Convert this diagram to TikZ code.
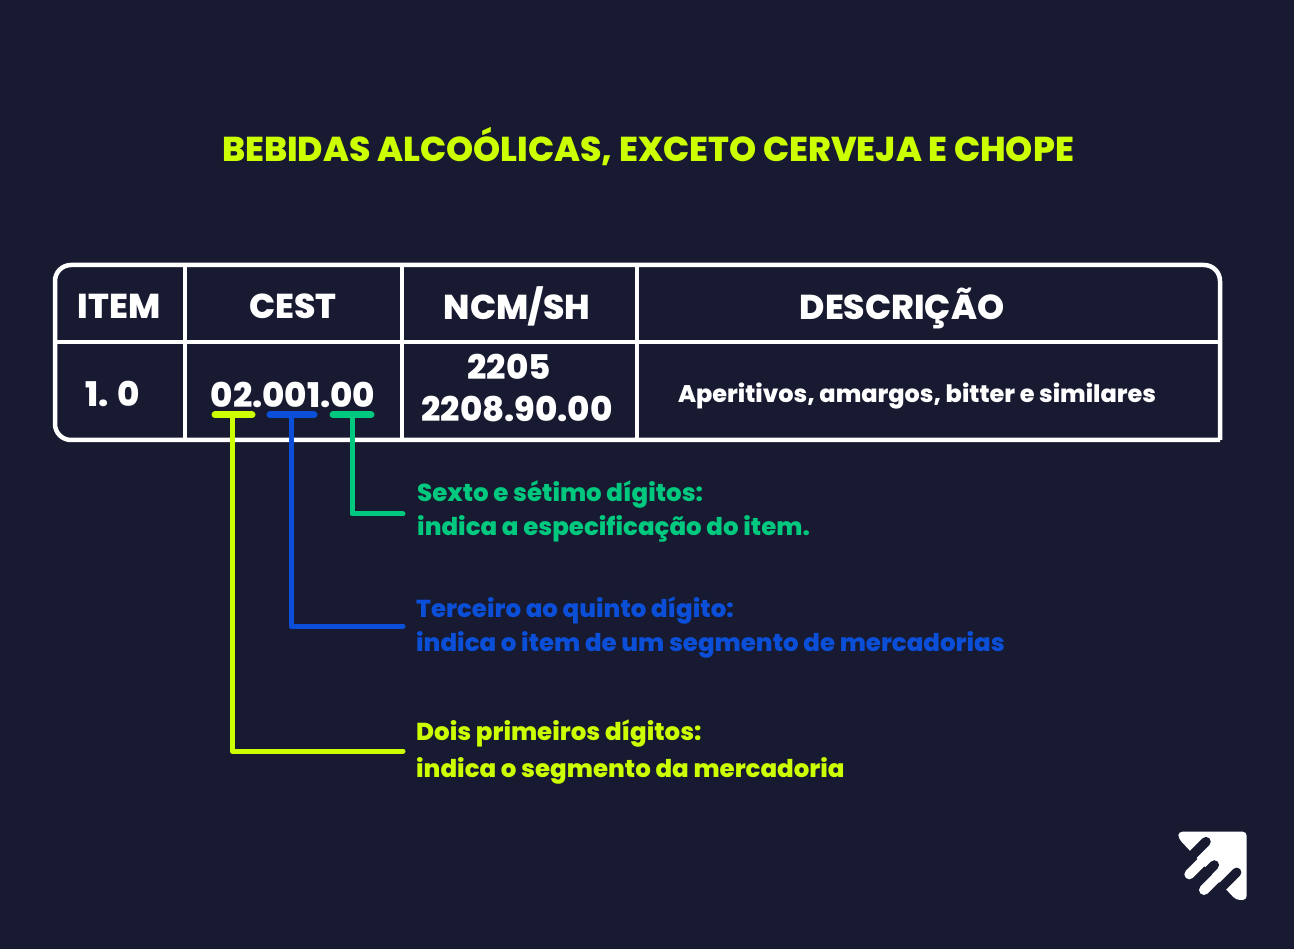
\documentclass[tikz,border=0pt]{standalone}
\usepackage{fontspec}
\setmainfont{Poppins}[BoldFont=Poppins ExtraBold]
\usetikzlibrary{positioning}
\definecolor{bgnavy}{HTML}{171A30}
\definecolor{limey}{HTML}{CCFF00}
\definecolor{bluey}{HTML}{0B4FD8}
\definecolor{greeny}{HTML}{00C97F}
\tikzset{
    head/.style={text=white, font=\bfseries\fontsize{34.5}{40}\selectfont},
    cell/.style={text=white, font=\bfseries\fontsize{34}{40}\selectfont},
    note/.style={anchor=west, align=left, inner sep=0pt, font=\bfseries\fontsize{24.5}{34}\selectfont},
    rule/.style={draw=white, line width=4.5pt},
    bar/.style={line width=7pt, line cap=round},
    lead/.style={line width=5pt, line join=round, line cap=round}
}
\begin{document}
\begin{tikzpicture}[x=1pt, y=-1pt]
    \def\top{265}
    \def\mid{342}
    \def\bot{440}
    \fill[bgnavy] (0,0) rectangle (1294,949);
    \useasboundingbox (0,0) rectangle (1294,949);

    \node(title) [text=limey, font=\bfseries\fontsize{34.5}{40}\selectfont] at (648,147) {BEBIDAS ALCOÓLICAS, EXCETO CERVEJA E CHOPE};

    \draw[rule, line cap=square] (1220,\bot) [rounded corners=16pt] -- (1220,\top) -- (55,\top) -- (55,\bot) [sharp corners] -- (1220,\bot);
    \draw[rule] (55,\mid) -- (1220,\mid);
    \draw[rule] (185,\top) -- (185,\bot);
    \draw[rule] (402,\top) -- (402,\bot);
    \draw[rule] (637,\top) -- (637,\bot);

    \node(item) [head] at (119,306) {ITEM};
    \node(cest) [head] at (293,306) {CEST};
    \node(ncm) [head] at (517,306) {NCM/SH};
    \node(desc) [head] at (902,308) {DESCRIÇÃO};
    \node(num) [cell] at (113,394) {1. 0};
    \node(code) [cell] at (293,395) {02.001.00};
    \node(ncma) [cell] at (509,367) {2205};
    \node(ncmb) [cell] at (517,409) {2208.90.00};
    \node(aper) [text=white, font=\bfseries\fontsize{24}{30}\selectfont] at (917,396) {Aperitivos, amargos, bitter e similares};

    \node(sexto) [note, text=greeny] at (417,511) {Sexto e sétimo dígitos:\\indica a especificação do item.};
    \node(terc) [note, text=bluey] at (416,628) {Terceiro ao quinto dígito:\\indica o item de um segmento de mercadorias};
    \node(dois) [note, text=limey] at (416,752) {Dois primeiros dígitos:\\[3pt]indica o segmento da mercadoria};

    \coordinate (g1) at (333,415);
    \coordinate (g2) at (371,415);
    \coordinate (b1) at (270,415);
    \coordinate (b2) at (314,415);
    \coordinate (y1) at (215,415);
    \coordinate (y2) at (252,415);
    \coordinate (gs) at (352,415);
    \coordinate (bs) at (291,415);
    \coordinate (ys) at (232,415);
    \coordinate (ge) at ([xshift=-14pt,yshift=-3pt]sexto.west);
    \coordinate (be) at ([xshift=-13pt,yshift=2pt]terc.west);
    \coordinate (ye) at ([xshift=-13pt,yshift=1pt]dois.west);

    \draw[lead, greeny] (gs) |- (ge);
    \draw[lead, bluey] (bs) |- (be);
    \draw[lead, limey] (ys) |- (ye);
    \draw[bar, greeny] (g1) -- (g2);
    \draw[bar, bluey] (b1) -- (b2);
    \draw[bar, limey] (y1) -- (y2);

    \begin{scope}[shift={(1150,810)}, x=0.3333pt, y=-0.3333pt]
        \fill[white, rounded corners=4pt] (85,65) -- (290,65) -- (290,270) -- (258,270) -- (85,85) -- cycle;
        \draw[bgnavy, line width=9.5pt, line cap=round] (168,95) -- (115,148);
        \draw[bgnavy, line width=9.5pt, line cap=round] (193,165) -- (140,218);
        \draw[bgnavy, line width=9.5pt, line cap=round] (260,187) -- (207,240);
        \draw[white, line width=10pt, line cap=round] (118,193) -- (175,136);
        \draw[white, line width=10pt, line cap=round] (162,240) -- (219,183);
    \end{scope}
\end{tikzpicture}
\end{document}
